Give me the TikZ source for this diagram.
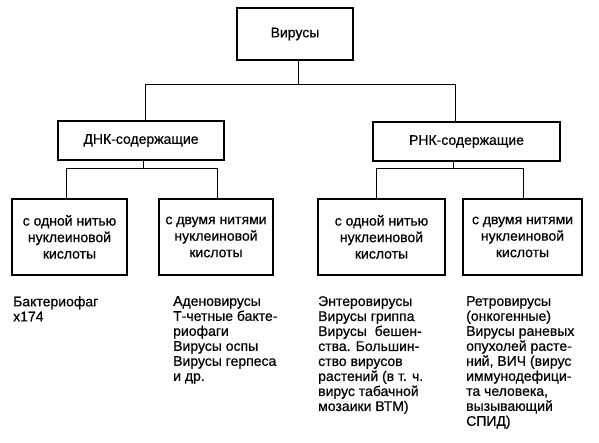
\documentclass[tikz,border=0pt]{standalone}
\usepackage{fontspec}
\setmainfont{Liberation Sans}[FakeBold=0.6]
\begin{document}
\begin{tikzpicture}[x=1pt,y=1pt,
  box/.style={draw, line width=1.8pt, align=center, inner sep=0pt, font=\fontsize{14}{16.5}\selectfont},
  conn/.style={line width=1pt},
  txt/.style={anchor=north west, align=left, inner sep=0pt, font=\fontsize{14}{15}\selectfont}]
\useasboundingbox (0,0) rectangle (599,-443);
\node[box, minimum width=116pt, minimum height=52pt] (top) at (295,-34) {Вирусы};
\node[box, minimum width=166pt, minimum height=39pt] (dnk) at (141,-140.5) {ДНК-содержащие};
\node[box, minimum width=187pt, minimum height=39pt] (rnk) at (466.5,-141.5) {РНК-содержащие};
\node[box, minimum width=115pt, minimum height=76pt] (b1) at (69.5,-237) {с одной нитью\\нуклеиновой\\кислоты};
\node[box, minimum width=114pt, minimum height=76pt] (b2) at (216,-237) {с двумя нитями\\нуклеиновой\\кислоты};
\node[box, minimum width=127pt, minimum height=76pt] (b3) at (381.5,-237) {с одной нитью\\нуклеиновой\\кислоты};
\node[box, minimum width=119pt, minimum height=76pt] (b4) at (522.5,-237) {с двумя нитями\\нуклеиновой\\кислоты};
\coordinate (j0) at (298,-85);
\coordinate (jl) at (145,-85);
\coordinate (jr) at (455,-85);
\coordinate (k1) at (143,-169);
\coordinate (k2) at (453,-169);
\coordinate (l1) at (66,-169);
\coordinate (l2) at (217,-169);
\coordinate (l3) at (376,-169);
\coordinate (l4) at (523,-169);
\draw[conn] (top.south -| j0) -- (j0);
\draw[conn] (dnk.north -| jl) -- (jl) -- (jr) -- (rnk.north -| jr);
\draw[conn] (dnk.south -| k1) -- (k1);
\draw[conn] (rnk.south -| k2) -- (k2);
\draw[conn] (b1.north -| l1) -- (l1) -- (l2) -- (b2.north -| l2);
\draw[conn] (b3.north -| l3) -- (l3) -- (l4) -- (b4.north -| l4);
\node[txt] (t1) at (13,-296) {Бактериофаг\\x174};
\node[txt] (t2) at (173,-296) {Аденовирусы\\Т-четные бакте-\\риофаги\\Вирусы оспы\\Вирусы герпеса\\и др.};
\node[txt] (t3) at (318,-296) {Энтеровирусы\\Вирусы гриппа\\Вирусы \ бешен-\\ства. Большин-\\ство вирусов\\растений (в т. ч.\\вирус табачной\\мозаики ВТМ)};
\node[txt] (t4) at (466,-296) {Ретровирусы\\(онкогенные)\\Вирусы раневых\\опухолей расте-\\ний, ВИЧ (вирус\\иммунодефици-\\та человека,\\вызывающий\\СПИД)};
\end{tikzpicture}
\end{document}
